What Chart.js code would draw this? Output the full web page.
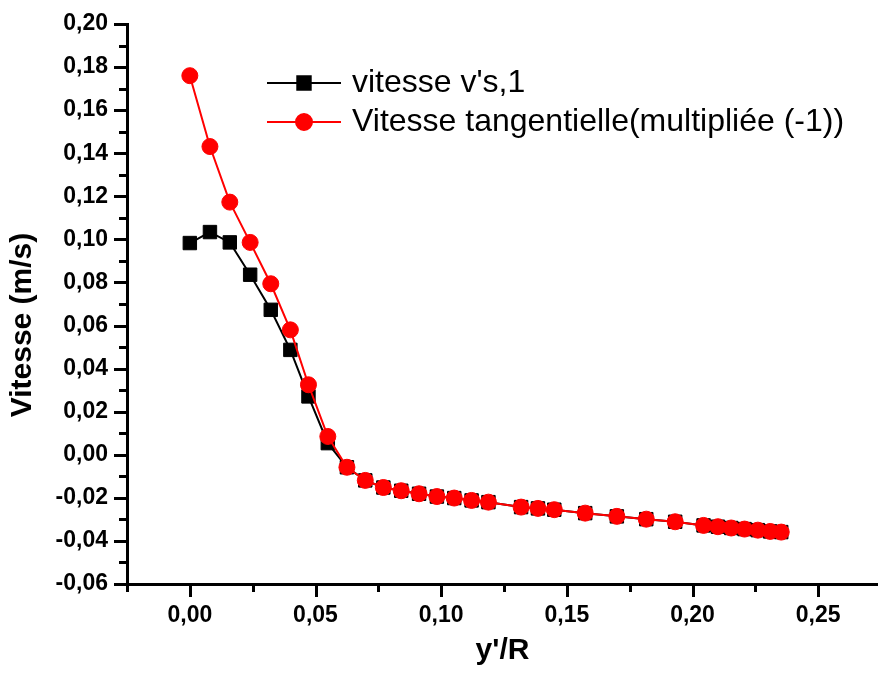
<!DOCTYPE html>
<html>
<head>
<meta charset="utf-8">
<script src="https://cdn.jsdelivr.net/npm/chart.js@4/dist/chart.umd.min.js"></script>
<style>
  html, body { margin: 0; padding: 0; background: #fff; }
  #wrap { width: 878px; height: 675px; position: relative; }
</style>
</head>
<body>
<div id="wrap"><canvas id="grafico"></canvas></div>
<script>
// y'/R positions shared by both series
const posY = [0, 0.008, 0.0159, 0.024, 0.0322, 0.040, 0.0472, 0.0549, 0.0625, 0.0698,
  0.077, 0.0841, 0.0912, 0.0983, 0.1052, 0.1121, 0.1188, 0.1318, 0.1385, 0.145,
  0.1573, 0.1699, 0.1816, 0.1931, 0.2044, 0.2101, 0.2154, 0.2207, 0.226, 0.2309, 0.2353];

// vitesse v's,1 (m/s)
const vitesseS1 = [0.0983, 0.1034, 0.0986, 0.0836, 0.0673, 0.0487, 0.0271, 0.0054, -0.0058, -0.0119,
  -0.0152, -0.0167, -0.0181, -0.0194, -0.0201, -0.0212, -0.022, -0.0243, -0.0249, -0.0255,
  -0.0271, -0.0286, -0.0299, -0.0311, -0.0328, -0.0334, -0.034, -0.0345, -0.035, -0.0356, -0.0359];

// vitesse tangentielle, multipliee par -1 (m/s)
const vitesseTang = [0.176, 0.1431, 0.1173, 0.0986, 0.0794, 0.058, 0.0325, 0.0085, -0.0058, -0.0119,
  -0.0152, -0.0167, -0.0181, -0.0194, -0.0201, -0.0212, -0.022, -0.0243, -0.0249, -0.0255,
  -0.0271, -0.0286, -0.0299, -0.0311, -0.0328, -0.0334, -0.034, -0.0345, -0.035, -0.0356, -0.0359];

// graduations
const ticksX = [-0.025, 0, 0.025, 0.05, 0.075, 0.10, 0.125, 0.15, 0.175, 0.20, 0.225, 0.25];
const labelsX = [0, 0.05, 0.10, 0.15, 0.20, 0.25];
const ticksY = [-0.06, -0.05, -0.04, -0.03, -0.02, -0.01, 0, 0.01, 0.02, 0.03, 0.04, 0.05, 0.06,
  0.07, 0.08, 0.09, 0.10, 0.11, 0.12, 0.13, 0.14, 0.15, 0.16, 0.17, 0.18, 0.19, 0.20];
const labelsY = [-0.06, -0.04, -0.02, 0, 0.02, 0.04, 0.06, 0.08, 0.10, 0.12, 0.14, 0.16, 0.18, 0.20];

const FONT = 'Liberation Sans, Arial, sans-serif';

const esMayor = (lista, v) => lista.some(m => Math.abs(m - v) < 1e-6);
const formato = v => (Math.abs(v) < 1e-9 ? 0 : v).toFixed(2).replace('.', ',');

const puntos = (xs, ys) => xs.map((x, i) => ({ x: x, y: ys[i] }));

// marcas de graduacion (mayores y menores) hacia fuera
const marcas = {
  id: 'marcas',
  afterDraw(chart) {
    const { ctx, chartArea, scales } = chart;
    ctx.save();
    ctx.strokeStyle = '#000';
    ctx.lineWidth = 3;
    ticksX.forEach(v => {
      const px = Math.round(scales.x.getPixelForValue(v)) + 0.5;
      const len = esMayor(labelsX, v) ? 13 : 8;
      ctx.beginPath();
      ctx.moveTo(px, chartArea.bottom);
      ctx.lineTo(px, chartArea.bottom + len);
      ctx.stroke();
    });
    ticksY.forEach(v => {
      const py = Math.round(scales.y.getPixelForValue(v)) + 0.5;
      const len = esMayor(labelsY, v) ? 13 : 8;
      ctx.beginPath();
      ctx.moveTo(chartArea.left, py);
      ctx.lineTo(chartArea.left - len, py);
      ctx.stroke();
    });

    // titulo del eje y
    ctx.fillStyle = '#000';
    ctx.font = 'bold 30px ' + FONT;
    ctx.textAlign = 'center';
    ctx.textBaseline = 'middle';
    ctx.translate(23, 325);
    ctx.rotate(-Math.PI / 2);
    ctx.fillText('Vitesse (m/s)', 0, 0);
    ctx.restore();
  }
};

// leyenda dentro del grafico
const leyenda = {
  id: 'leyenda',
  afterDraw(chart) {
    const { ctx } = chart;
    ctx.save();
    chart.data.datasets.forEach((ds, i) => {
      const y = 83 + i * 39;
      ctx.strokeStyle = ds.borderColor;
      ctx.lineWidth = 2;
      ctx.beginPath();
      ctx.moveTo(267, y);
      ctx.lineTo(341, y);
      ctx.stroke();
      ctx.fillStyle = ds.pointBackgroundColor;
      ctx.strokeStyle = ds.pointBorderColor;
      Chart.helpers.drawPoint(ctx, {
        pointStyle: ds.pointStyle,
        radius: ds.pointRadius,
        borderWidth: 1,
        rotation: 0
      }, 304, y);
      ctx.fillStyle = '#000';
      ctx.font = '32px ' + FONT;
      ctx.textAlign = 'left';
      ctx.textBaseline = 'middle';
      ctx.fillText(ds.label, 352, y);
    });
    ctx.restore();
  }
};

new Chart(document.getElementById('grafico'), {
  type: 'line',
  data: {
    datasets: [{
      label: "vitesse v's,1",
      data: puntos(posY, vitesseS1),
      borderColor: '#000',
      borderWidth: 2,
      pointStyle: 'rect',
      pointRadius: 9.5,
      pointBackgroundColor: '#000',
      pointBorderColor: '#000',
      pointBorderWidth: 1,
      order: 1
    }, {
      label: 'Vitesse tangentielle(multipliée (-1))',
      data: puntos(posY, vitesseTang),
      borderColor: '#ff0000',
      borderWidth: 2,
      pointStyle: 'circle',
      pointRadius: 8,
      pointBackgroundColor: '#ff0000',
      pointBorderColor: '#ff0000',
      pointBorderWidth: 1,
      order: 0
    }]
  },
  options: {
    responsive: true,
    maintainAspectRatio: false,
    animation: false,
    layout: { autoPadding: false, padding: { top: 24, right: 0, left: 0, bottom: 0 } },
    plugins: {
      legend: { display: false },
      tooltip: { enabled: false }
    },
    scales: {
      x: {
        type: 'linear',
        min: -0.025,
        max: 0.2738,
        afterBuildTicks: s => { s.ticks = ticksX.map(v => ({ value: v })); },
        afterFit: s => { s.height = 91; },
        grid: { display: false, drawTicks: true, tickLength: 13 },
        border: { display: true, color: '#000', width: 3 },
        ticks: {
          padding: 5,
          color: '#000',
          maxRotation: 0,
          autoSkip: false,
          font: { family: FONT, size: 23, weight: 'bold' },
          callback: v => esMayor(labelsX, v) ? formato(v) : ''
        },
        title: {
          display: true,
          text: "y'/R",
          color: '#000',
          padding: { top: 0, bottom: 6 },
          font: { family: FONT, size: 30, weight: 'bold' }
        }
      },
      y: {
        type: 'linear',
        min: -0.06,
        max: 0.20,
        afterBuildTicks: s => { s.ticks = ticksY.map(v => ({ value: v })); },
        afterFit: s => { s.width = 127; },
        grid: { display: false, drawTicks: true, tickLength: 13 },
        border: { display: true, color: '#000', width: 3 },
        ticks: {
          padding: 6,
          color: '#000',
          autoSkip: false,
          font: { family: FONT, size: 23, weight: 'bold' },
          callback: v => esMayor(labelsY, v) ? formato(v) : ''
        }
      }
    }
  },
  plugins: [marcas, leyenda]
});
</script>
</body>
</html>
